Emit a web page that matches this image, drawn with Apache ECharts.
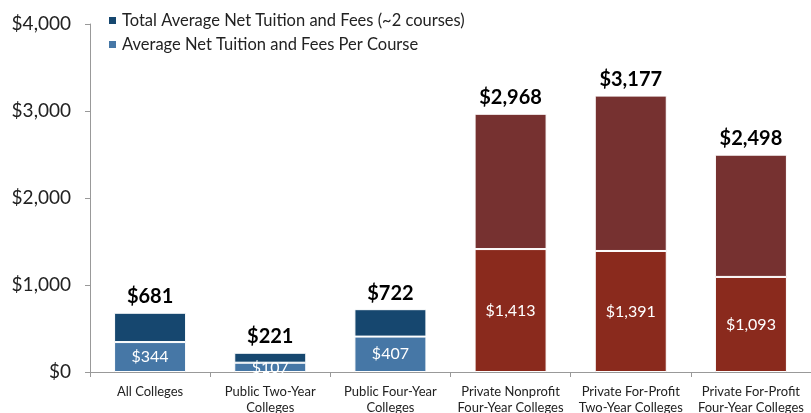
<!DOCTYPE html>
<html>
<head>
<meta charset="utf-8">
<script src="https://cdn.jsdelivr.net/npm/echarts@6/dist/echarts.min.js"></script>
<style>
  html, body { margin: 0; padding: 0; background: #fff; }
  #chart { width: 811px; height: 413px; }
</style>
</head>
<body>
<div id="chart"></div>
<script>
const categories = [
  'All Colleges',
  'Public Two-Year\nColleges',
  'Public Four-Year\nColleges',
  'Private Nonprofit\nFour-Year Colleges',
  'Private For-Profit\nTwo-Year Colleges',
  'Private For-Profit\nFour-Year Colleges'
]
const totalValues = [681, 221, 722, 2968, 3177, 2498]
const perCourseValues = [344, 107, 407, 1413, 1391, 1093]
const yTicks = [0, 1000, 2000, 3000, 4000]

const totalName = 'Total Average Net Tuition and Fees (~2 courses)'
const perCourseName = 'Average Net Tuition and Fees Per Course'

const topColors = ['#16476f', '#16476f', '#16476f', '#763130', '#763130', '#763130']
const bottomColors = ['#4677a6', '#4677a6', '#4677a6', '#8a2a1d', '#8a2a1d', '#8a2a1d']

const fmt = v => '$' + v.toLocaleString('en-US')

const chart = echarts.init(document.getElementById('chart'))
const option = {
  animation: false,
  textStyle: { fontFamily: 'Lato, sans-serif' },
  legend: {
    data: [totalName, perCourseName],
    orient: 'vertical',
    left: 102,
    top: 7,
    itemWidth: 9,
    itemHeight: 9,
    itemGap: 7,
    icon: 'rect',
    textStyle: { fontSize: 16.5, color: '#222', fontFamily: 'Lato, sans-serif' }
  },
  grid: { left: 90, right: 0, top: 24, bottom: 41, outerBoundsMode: 'none', containLabel: false },
  xAxis: {
    type: 'category',
    data: categories,
    axisLine: { lineStyle: { color: '#999' } },
    axisTick: { show: true, length: 5, lineStyle: { color: '#999' } },
    axisLabel: { color: '#222', fontSize: 13, margin: 12, lineHeight: 16, interval: 0 }
  },
  yAxis: {
    type: 'value',
    min: 0,
    max: yTicks[yTicks.length - 1],
    interval: 1000,
    splitLine: { show: false },
    axisLine: { show: true, lineStyle: { color: '#999' } },
    axisTick: { show: true, length: 5, lineStyle: { color: '#999' } },
    axisLabel: { color: '#222', fontSize: 19, margin: 19, formatter: fmt }
  },
  series: [
    {
      name: perCourseName,
      type: 'bar',
      stack: 'total',
      barWidth: 72,
      itemStyle: { color: bottomColors[0], borderColor: '#fff', borderWidth: 1 },
      label: {
        show: true,
        position: 'inside',
        color: '#fff',
        fontSize: 16,
        formatter: p => fmt(p.value)
      },
      data: perCourseValues.map((v, i) => ({ value: v, itemStyle: { color: bottomColors[i] } }))
    },
    {
      name: totalName,
      type: 'bar',
      stack: 'total',
      barWidth: 72,
      itemStyle: { color: topColors[0], borderColor: '#fff', borderWidth: 1 },
      label: {
        show: true,
        position: 'top',
        distance: 6,
        color: '#000',
        fontSize: 20,
        fontWeight: 'bold',
        formatter: p => fmt(totalValues[p.dataIndex])
      },
      data: totalValues.map((v, i) => ({ value: v - perCourseValues[i], itemStyle: { color: topColors[i] } }))
    }
  ]
}
chart.setOption(option)
</script>
</body>
</html>
